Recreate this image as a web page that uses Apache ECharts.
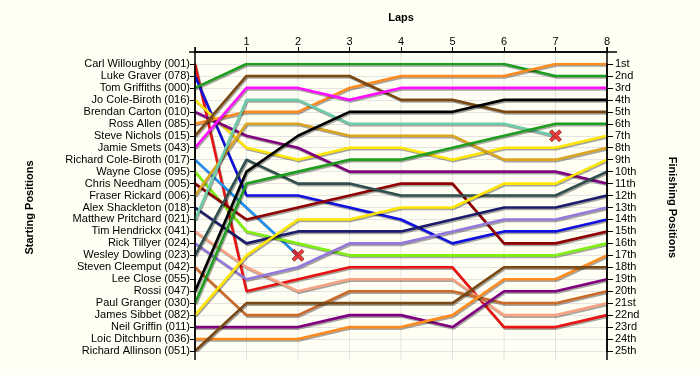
<!DOCTYPE html>
<html>
<head>
<meta charset="utf-8">
<script src="https://cdn.jsdelivr.net/npm/echarts@6/dist/echarts.min.js"></script>
<style>
html,body{margin:0;padding:0;background:#FFFFF4;}
#chart{width:700px;height:375px;}
</style>
</head>
<body>
<div id="chart"></div>
<script>
// ---- DATA ----
const lapValues = [0, 1, 2, 3, 4, 5, 6, 7, 8];
const startingOrder = [
  'Carl Willoughby (001)', 'Luke Graver (078)', 'Tom Griffiths (000)', 'Jo Cole-Biroth (016)',
  'Brendan Carton (010)', 'Ross Allen (085)', 'Steve Nichols (015)', 'Jamie Smets (043)',
  'Richard Cole-Biroth (017)', 'Wayne Close (095)', 'Chris Needham (005)', 'Fraser Rickard (006)',
  'Alex Shackleton (018)', 'Matthew Pritchard (021)', 'Tim Hendrickx (041)', 'Rick Tillyer (024)',
  'Wesley Dowling (023)', 'Steven Cleemput (042)', 'Lee Close (055)', 'Rossi (047)',
  'Paul Granger (030)', 'James Sibbet (082)', 'Neil Griffin (011)', 'Loic Ditchburn (036)',
  'Richard Allinson (051)'
];
const finishingLabels = [
  '1st','2nd','3rd','4th','5th','6th','7th','8th','9th','10th','11th','12th','13th',
  '14th','15th','16th','17th','18th','19th','20th','21st','22nd','23rd','24th','25th'
];

// position at each lap (lap 0 = start)
const carlWilloughby    = [1, 20, 19, 18, 18, 18, 23, 23, 22];
const lukeGraver        = [2, 12, 12, 13, 14, 16, 15, 15, 14];
const tomGriffiths      = [3, 1, 1, 1, 1, 1, 1, 2, 2];
const joColeBiroth      = [4, 8, 9, 8, 8, 9, 8, 8, 7];
const brendanCarton     = [5, 7, 8, 10, 10, 10, 10, 10, 11];
const rossAllen         = [6, 5, 5, 3, 2, 2, 2, 1, 1];
const steveNichols      = [7, 2, 2, 2, 4, 4, 5, 5, 5];
const jamieSmets        = [8, 3, 3, 4, 3, 3, 3, 3, 3];
const richardColeBiroth = [9, 13, 17];
const wayneClose        = [10, 15, 16, 17, 17, 17, 17, 17, 16];
const chrisNeedham      = [11, 14, 13, 12, 11, 11, 16, 16, 15];
const fraserRickard     = [12, 6, 6, 7, 7, 7, 9, 9, 8];
const alexShackleton    = [13, 16, 15, 15, 15, 14, 13, 13, 12];
const matthewPritchard  = [14, 4, 4, 6, 6, 6, 6, 7];
const timHendrickx      = [15, 18, 20, 19, 19, 19, 22, 22, 21];
const rickTillyer       = [16, 19, 18, 16, 16, 15, 14, 14, 13];
const wesleyDowling     = [17, 9, 11, 11, 12, 12, 12, 12, 10];
const stevenCleemput    = [18, 22, 22, 20, 20, 20, 21, 21, 20];
const leeClose          = [];
const rossi             = [20, 10, 7, 5, 5, 5, 4, 4, 4];
const paulGranger       = [21, 11, 10, 9, 9, 8, 7, 6, 6];
const jamesSibbet       = [22, 17, 14, 14, 13, 13, 11, 11, 9];
const neilGriffin       = [23, 23, 23, 22, 22, 23, 20, 20, 19];
const loicDitchburn     = [24, 24, 24, 23, 23, 22, 19, 19, 17];
const richardAllinson   = [25, 21, 21, 21, 21, 21, 18, 18, 18];

const driverPositions = [
  carlWilloughby, lukeGraver, tomGriffiths, joColeBiroth, brendanCarton, rossAllen,
  steveNichols, jamieSmets, richardColeBiroth, wayneClose, chrisNeedham, fraserRickard,
  alexShackleton, matthewPritchard, timHendrickx, rickTillyer, wesleyDowling, stevenCleemput,
  leeClose, rossi, paulGranger, jamesSibbet, neilGriffin, loicDitchburn, richardAllinson
];
const driverColors = [
  '#E81212', '#1010E0', '#1E9E1E', '#FFE600', '#800080', '#FF8A1E',
  '#7A4812', '#FF10FF', '#2290F0', '#80F010', '#900000', '#DAA520',
  '#1C1C6C', '#6CCCAA', '#F8A284', '#9478DC', '#2F4F4F', '#CC6A2A',
  '#888888', '#000000', '#1E9E1E', '#FFE600', '#800080', '#FF8A1E', '#7A4812'
];
const retiredDrivers = ['Richard Cole-Biroth (017)', 'Matthew Pritchard (021)'];

// ---- CHART ----
const FONT = 'Liberation Sans';
const series = [];
startingOrder.forEach((name, i) => {
  const arr = driverPositions[i];
  if (!arr.length) return;
  series.push({
    name: name,
    type: 'line',
    symbol: 'none',
    yAxisIndex: 0,
    data: arr.map((p, lap) => [lapValues[lap], p]),
    lineStyle: {
      width: 2.6, color: driverColors[i],
      shadowColor: 'rgba(0,0,0,0.35)', shadowOffsetX: 1, shadowOffsetY: 1.5, shadowBlur: 0
    },
    z: 2
  });
});
const retiredPoints = retiredDrivers.map(n => {
  const arr = driverPositions[startingOrder.indexOf(n)];
  return [lapValues[arr.length - 1], arr[arr.length - 1]];
});
series.push({
  type: 'scatter',
  yAxisIndex: 0,
  data: retiredPoints,
  symbol: 'path://M0,2 L2,0 L5,3 L8,0 L10,2 L7,5 L10,8 L8,10 L5,7 L2,10 L0,8 L3,5 Z',
  symbolSize: 12,
  itemStyle: { color: '#E81212', borderColor: '#700000', borderWidth: 0.8 },
  z: 5
});

const yCommon = {
  type: 'value', inverse: true, min: 1, max: 25, interval: 1,
  axisLine: { show: true, lineStyle: { color: '#000', width: 1.5 } },
  nameLocation: 'middle',
  nameTextStyle: { fontFamily: FONT, fontWeight: 'bold', fontSize: 11, color: '#000' }
};

const AXIS_OFFSET = 12;
const option = {
  animation: false,
  backgroundColor: '#FFFFF4',
  grid: { left: 195, right: 93, top: 64, bottom: 24 },
  xAxis: {
    type: 'value', min: 0, max: 8, interval: 1, position: 'top', offset: AXIS_OFFSET,
    name: 'Laps', nameLocation: 'middle', nameGap: 29,
    nameTextStyle: { fontFamily: FONT, fontWeight: 'bold', fontSize: 11, color: '#000' },
    axisLine: { show: true, lineStyle: { color: '#000', width: 1.5 } },
    axisTick: { show: true, length: 5, lineStyle: { color: '#000' } },
    axisLabel: { formatter: v => v === 0 ? '' : String(v), fontFamily: FONT, fontSize: 11, color: '#000', margin: 5 },
    splitLine: { show: false }
  },
  yAxis: [
    Object.assign({}, yCommon, {
      position: 'left', name: 'Starting Positions', nameRotate: 90, nameGap: 160,
      axisTick: { show: true, length: 5, lineStyle: { color: '#000' } },
      axisLabel: { formatter: v => startingOrder[v - 1] || '', fontFamily: FONT, fontSize: 11, color: '#000', margin: 5 },
      splitLine: { show: true, lineStyle: { color: '#E4E4E4', width: 1 } }
    }),
    Object.assign({}, yCommon, {
      position: 'right', name: 'Finishing Positions', nameRotate: -90, nameGap: 60,
      axisTick: { show: true, length: 6, lineStyle: { color: '#000' } },
      axisLabel: { formatter: v => finishingLabels[v - 1] || '', fontFamily: FONT, fontSize: 11, color: '#000', margin: 8 },
      splitLine: { show: false }
    })
  ],
  series: series
};

const chart = echarts.init(document.getElementById('chart'), null, { renderer: 'canvas' });
chart.setOption(option);

// vertical lap grid lines and axis extensions, positioned through the chart's own scales
const topPx = chart.convertToPixel({ gridIndex: 0 }, [0, 1])[1] - AXIS_OFFSET;
const botPx = chart.convertToPixel({ gridIndex: 0 }, [0, 25])[1] + 9;
const leftPx = chart.convertToPixel({ gridIndex: 0 }, [lapValues[0], 1])[0];
const rightPx = chart.convertToPixel({ gridIndex: 0 }, [lapValues[lapValues.length - 1], 1])[0];
const graphics = [];
lapValues.forEach(l => {
  const x = chart.convertToPixel({ gridIndex: 0 }, [l, 1])[0];
  const isEdge = (l === lapValues[0] || l === lapValues[lapValues.length - 1]);
  graphics.push({
    type: 'line', z: isEdge ? 10 : 0, silent: true,
    shape: { x1: x, y1: isEdge ? topPx - 5 : topPx, x2: x, y2: botPx },
    style: { stroke: isEdge ? '#000' : '#E4E4E4', lineWidth: isEdge ? 1.5 : 1 }
  });
});
graphics.push({
  type: 'line', z: 10, silent: true,
  shape: { x1: leftPx - 6, y1: topPx, x2: rightPx + 10, y2: topPx },
  style: { stroke: '#000', lineWidth: 1.5 }
});
chart.setOption({ graphic: graphics });
</script>
</body>
</html>
